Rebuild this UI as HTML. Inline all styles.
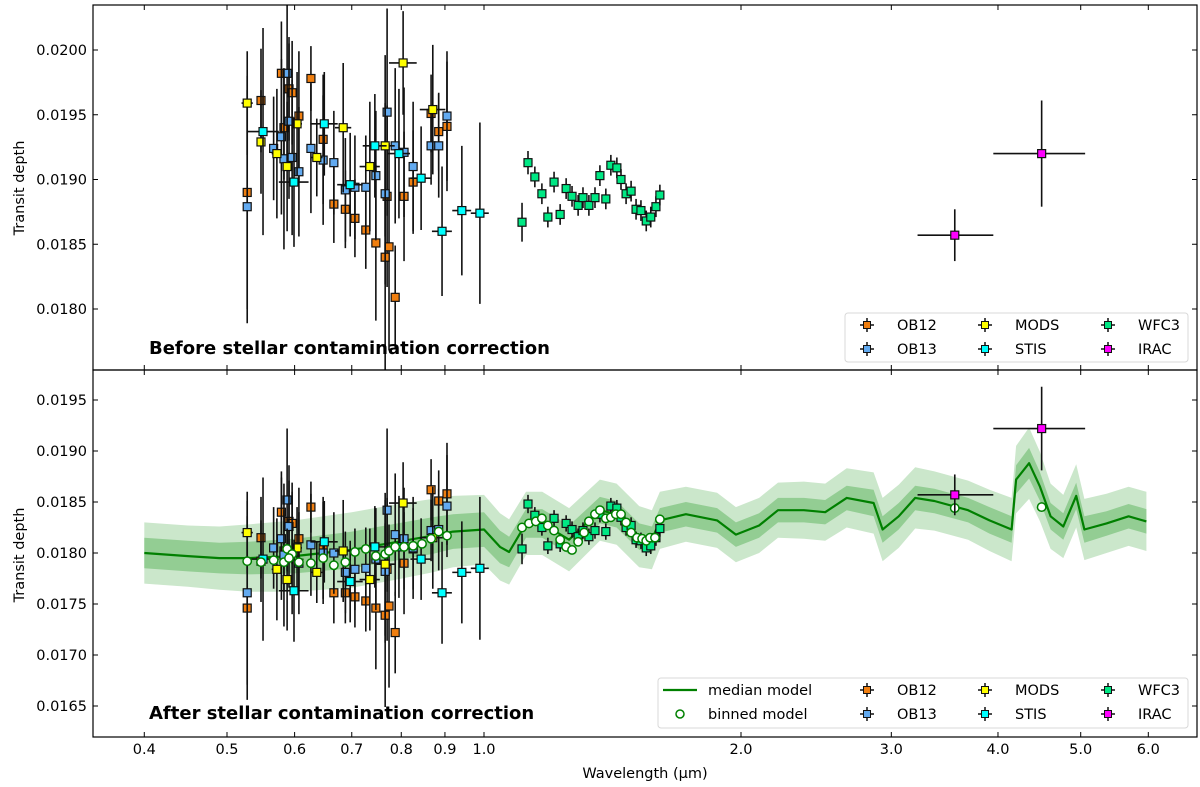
<!DOCTYPE html>
<html><head><meta charset="utf-8"><style>
html,body{margin:0;padding:0;background:#fff;}
svg{display:block;font-family:"DejaVu Sans","Liberation Sans",sans-serif;}
</style></head><body>
<svg id="chart" width="1200" height="787" viewBox="0 0 1200 787" xmlns="http://www.w3.org/2000/svg">
<defs>
<clipPath id="clipTop"><rect x="93" y="5" width="1104" height="365"/></clipPath>
<clipPath id="clipBot"><rect x="93" y="370" width="1104" height="367"/></clipPath>
</defs>
<g id="topPanel"></g>
<g id="botPanel"></g>
<g id="axes"></g>
</svg>
<script>
// ---------- data ----------
const ob12Wl=[.528,.548,.579,.591,.596,.583,.607,.627,.648,.667,.688,.706,.727,.747,.770,.774,.766,.787,.806,.826,.867,.885,.905];
const ob12Top=[.01890,.01961,.01982,.01970,.01967,.01940,.01949,.01978,.01931,.01881,.01877,.01870,.01861,.01851,.01887,.01848,.01840,.01809,.01887,.01898,.01951,.01937,.01941];
const ob12Bot=[.01746,.01815,.01840,.01831,.01829,.01802,.01814,.01845,.01805,.01761,.01761,.01757,.01753,.01746,.01784,.01748,.01739,.01722,.01790,.01804,.01862,.01851,.01858];
const ob12Err=[.0009,.0004,.0004,.0004,.0004,.0004,.0005,.00025,.0005,.0003,.0003,.0003,.0003,.0006,.0007,.0008,.0009,.0004,.0005,.0004,.0003,.0003,.0005];
const ob12Xerr=[.004,.004,.004,.004,.004,.004,.004,.004,.004,.004,.004,.004,.004,.004,.004,.004,.004,.004,.004,.004,.004,.004,.004];

const ob13Wl=[.528,.567,.588,.591,.579,.583,.596,.607,.627,.648,.667,.688,.706,.727,.747,.770,.766,.787,.806,.826,.867,.885,.905];
const ob13Top=[.01879,.01924,.01982,.01945,.01933,.01916,.01917,.01906,.01924,.01915,.01913,.01892,.01894,.01894,.01903,.01952,.01889,.01926,.01921,.01910,.01926,.01926,.01949];
const ob13Bot=[.01761,.01805,.01852,.01826,.01814,.01798,.01800,.01790,.01808,.01800,.01800,.01781,.01784,.01785,.01794,.01842,.01782,.01818,.01814,.01805,.01822,.01823,.01846];
const ob13Err=[.0009,.0004,.0007,.0006,.0006,.0007,.0006,.0005,.0005,.0005,.0004,.0004,.0004,.0004,.0005,.0008,.0007,.0006,.0005,.0005,.0003,.0004,.0005];
const ob13Xerr=[.004,.004,.004,.004,.004,.004,.004,.004,.004,.004,.004,.004,.004,.004,.004,.004,.004,.004,.004,.004,.004,.004,.004];

const modsWl=[.528,.548,.572,.604,.588,.637,.684,.735,.766,.804,.871];
const modsTop=[.01959,.01929,.01920,.01943,.01910,.01917,.01940,.01910,.01926,.01990,.01954];
const modsBot=[.01820,.01792,.01784,.01805,.01774,.01781,.01802,.01774,.01789,.01849,.01815];
const modsErr=[.0004,.0004,.0005,.0004,.0005,.0003,.0005,.0005,.0007,.0004,.0005];
const modsXerr=[.008,.006,.008,.008,.006,.01,.015,.02,.02,.03,.03];

const stisWl=[.551,.599,.650,.697,.745,.795,.844,.893,.942,.989];
const stisTop=[.01937,.01898,.01943,.01896,.01926,.01920,.01901,.01860,.01876,.01874];
const stisBot=[.01794,.01763,.01811,.01772,.01806,.01806,.01794,.01761,.01781,.01785];
const stisErr=[.0008,.0005,.0004,.0004,.0004,.0005,.0004,.0005,.0005,.0007];
const stisXerr=[.024,.024,.024,.024,.024,.024,.024,.024,.024,.024];

const wfc3Wl=[1.108,1.126,1.147,1.169,1.188,1.208,1.228,1.248,1.268,1.289,1.306,1.327,1.349,1.367,1.389,1.408,1.431,1.447,1.467,1.487,1.507,1.527,1.549,1.568,1.590,1.607];
const wfc3Top=[.01867,.01913,.01902,.01889,.01871,.01898,.01873,.01893,.01887,.01880,.01886,.01880,.01886,.01903,.01885,.01911,.01909,.01900,.01889,.01891,.01877,.01876,.01868,.01871,.01879,.01888];
const wfc3Bot=[.01804,.01848,.01837,.01825,.01807,.01834,.01809,.01829,.01823,.01816,.01822,.01816,.01822,.01838,.01821,.01846,.01844,.01835,.01825,.01827,.01813,.01812,.01805,.01807,.01815,.01824];
const wfc3Err=[.00015,.00009,.00008,.00008,.00008,.00008,.00008,.00008,.00008,.00008,.00008,.00008,.00008,.00008,.00008,.00008,.00008,.00008,.00008,.00008,.00008,.00008,.00008,.00008,.00008,.00008];
const wfc3Xerr=[0,0,0,0,0,0,0,0,0,0,0,0,0,0,0,0,0,0,0,0,0,0,0,0,0,0];

const iracWl=[3.56,4.50];
const iracTop=[.01857,.01920];
const iracBot=[.01857,.01922];
const iracErr=[.0002,.00041];
const iracXlo=[3.22,3.95];
const iracXhi=[3.95,5.06];

const modelWl=[0.40,0.45,0.49,0.53,0.60,0.70,0.78,0.87,0.92,1.00,1.044,1.07,1.12,1.17,1.258,1.367,1.43,1.52,1.573,1.607,1.724,1.875,1.973,2.1,2.21,2.37,2.51,2.66,2.86,2.93,3.06,3.2,3.37,3.69,3.91,4.15,4.2,4.35,4.48,4.61,4.77,4.94,5.05,5.36,5.69,5.97];
const modelMed=[.01800,.01797,.01795,.01795,.01797,.01803,.01810,.01817,.01821,.01823,.01806,.01801,.01829,.01829,.01813,.01842,.01838,.01816,.01813,.01832,.01838,.01832,.01818,.01827,.01842,.01842,.01840,.01854,.01849,.01823,.01836,.01854,.01851,.01842,.01832,.01823,.01872,.01888,.01865,.01836,.01826,.01856,.01823,.01829,.01836,.01831];
const modelS1=[.00015,.00015,.00015,.00016,.00017,.00018,.00018,.00018,.00017,.00017,.00016,.00015,.00014,.00014,.00014,.00013,.00013,.00013,.00013,.00012,.00012,.00012,.00012,.00012,.00012,.00012,.00012,.00012,.00013,.00013,.00013,.00012,.00012,.00012,.00013,.00013,.00014,.00015,.00014,.00013,.00013,.00013,.00013,.00012,.00012,.00012];
const modelS2=[.00030,.00030,.00031,.00033,.00035,.00037,.00037,.00036,.00035,.00034,.00033,.00032,.00031,.00031,.00031,.00030,.00030,.00030,.00029,.00028,.00027,.00027,.00027,.00027,.00027,.00028,.00028,.00029,.00030,.00031,.00031,.00030,.00029,.00029,.00030,.00031,.00033,.00035,.00034,.00032,.00031,.00031,.00030,.00029,.00029,.00029];

const binWl=[.528,.548,.567,.583,.588,.596,.591,.607,.627,.648,.667,.688,.706,.727,.747,.766,.774,.787,.806,.826,.846,.867,.885,.905,1.108,1.129,1.15,1.169,1.188,1.208,1.228,1.248,1.268,1.289,1.31,1.327,1.349,1.367,1.389,1.408,1.427,1.447,1.467,1.487,1.511,1.532,1.549,1.565,1.586,1.607,3.56,4.50];
const binVal=[.01792,.01791,.01793,.01791,.01804,.01799,.01795,.01791,.01790,.01795,.01788,.01791,.01801,.01804,.01797,.01799,.01802,.01806,.01806,.01807,.01809,.01814,.01821,.01817,.01825,.01829,.01831,.01834,.01827,.01822,.01813,.01806,.01803,.01811,.01820,.01831,.01838,.01842,.01834,.01835,.01838,.01838,.01830,.01820,.01815,.01814,.01812,.01815,.01815,.01833,.01844,.01845];

const topTicks=[0.0180,0.0185,0.0190,0.0195,0.0200];
const botTicks=[0.0165,0.0170,0.0175,0.0180,0.0185,0.0190,0.0195];
const xTicks=[0.4,0.5,0.6,0.7,0.8,0.9,1.0,2.0,3.0,4.0,5.0,6.0];
const xTickLabels=["0.4","0.5","0.6","0.7","0.8","0.9","1.0","2.0","3.0","4.0","5.0","6.0"];

// ---------- scales ----------
const L=93,R=1197;
function X(w){return 484+853.7*Math.log10(w);}
function YT(v){return 50+(0.0200-v)*129500;}
function YB(v){return 400+(0.0195-v)*102000;}
const NS="http://www.w3.org/2000/svg";
function mk(tag,attrs,parent){const e=document.createElementNS(NS,tag);for(const k in attrs)e.setAttribute(k,attrs[k]);parent.appendChild(e);return e;}

const topG=document.getElementById('topPanel');
const botG=document.getElementById('botPanel');
const axes=document.getElementById('axes');
const gTop=mk('g',{'clip-path':'url(#clipTop)'},topG);
const gBot=mk('g',{'clip-path':'url(#clipBot)'},botG);

// ---------- model bands ----------
function band(s,fill,name){
  let pts=[];
  for(let i=0;i<modelWl.length;i++)pts.push(X(modelWl[i]).toFixed(1)+','+YB(modelMed[i]+s[i]).toFixed(1));
  for(let i=modelWl.length-1;i>=0;i--)pts.push(X(modelWl[i]).toFixed(1)+','+YB(modelMed[i]-s[i]).toFixed(1));
  const p=mk('polygon',{points:pts.join(' '),fill:fill,stroke:'none'},gBot);
  
  
}
band(modelS2,'#cbe7cb','model-2sigma-band');
band(modelS1,'#93cd93','model-1sigma-band');
{
  let d='';
  for(let i=0;i<modelWl.length;i++)d+=(i?'L':'M')+X(modelWl[i]).toFixed(1)+' '+YB(modelMed[i]).toFixed(1);
  const p=mk('path',{d:d,fill:'none',stroke:'#008000','stroke-width':2.2,'stroke-linejoin':'round'},gBot);
  
  
}

// ---------- data points ----------
function drawSeries(g,Y,wl,val,err,xlo,xhi,color,name){
  for(let i=0;i<wl.length;i++){
    const cx=X(wl[i]),cy=Y(val[i]);
    const grp=mk('g',{},g);
    
    
    mk('line',{x1:cx,x2:cx,y1:Y(val[i]+err[i]),y2:Y(val[i]-err[i]),stroke:'#111','stroke-width':1.6},grp);
    mk('line',{x1:X(xlo[i]),x2:X(xhi[i]),y1:cy,y2:cy,stroke:'#111','stroke-width':1.6},grp);
    mk('rect',{x:cx-4,y:cy-4,width:8,height:8,fill:color,stroke:'#111','stroke-width':1.2},grp);
  }
}
function lohi(wl,xe){return [wl.map((w,i)=>w-xe[i]),wl.map((w,i)=>w+xe[i])];}
const series=[
 [ob12Wl,ob12Top,ob12Bot,ob12Err,ob12Xerr,'#f07f10','ob12'],
 [ob13Wl,ob13Top,ob13Bot,ob13Err,ob13Xerr,'#62aaf0','ob13'],
 [modsWl,modsTop,modsBot,modsErr,modsXerr,'#ffff00','mods'],
 [stisWl,stisTop,stisBot,stisErr,stisXerr,'#00ffff','stis'],
 [wfc3Wl,wfc3Top,wfc3Bot,wfc3Err,wfc3Xerr,'#00e884','wfc3']
];
series.forEach(s=>{const lh=lohi(s[0],s[4]);
  drawSeries(gTop,YT,s[0],s[1],s[3],lh[0],lh[1],s[5],s[6]);
  drawSeries(gBot,YB,s[0],s[2],s[3],lh[0],lh[1],s[5],s[6]);
});
drawSeries(gTop,YT,iracWl,iracTop,iracErr,iracXlo,iracXhi,'#ff00ff','irac');

// binned model circles
for(let i=0;i<binWl.length;i++){
  const c=mk('circle',{cx:X(binWl[i]),cy:YB(binVal[i]),r:4.2,fill:'#fff',stroke:'#008000','stroke-width':1.5},gBot);
  
  
}
drawSeries(gBot,YB,iracWl,iracBot,iracErr,iracXlo,iracXhi,'#ff00ff','irac');

// ---------- axes ----------
function frame(y0,y1,name){
  const r=mk('rect',{x:L,y:y0,width:R-L,height:y1-y0,fill:'none',stroke:'#000','stroke-width':1.2},axes);
  
  
}
frame(5,370,'top-panel-frame');
frame(370,737,'bottom-panel-frame');
function yTicks(ticks,Y,name){
  ticks.forEach(v=>{
    const y=Y(v);
    mk('line',{x1:L,x2:L+5,y1:y,y2:y,stroke:'#000','stroke-width':1},axes);
    mk('line',{x1:R,x2:R-5,y1:y,y2:y,stroke:'#000','stroke-width':1},axes);
    const t=mk('text',{x:87,y:y+5,'text-anchor':'end','font-size':14.5,fill:'#000'},axes);
    t.textContent=v.toFixed(4);
    
    
  });
}
yTicks(topTicks,YT,'top-y');
yTicks(botTicks,YB,'bottom-y');
xTicks.forEach((w,i)=>{
  const x=X(w);
  [[5,10],[370,375],[370,365],[737,732]].forEach(p=>mk('line',{x1:x,x2:x,y1:p[0],y2:p[1],stroke:'#000','stroke-width':1},axes));
  const t=mk('text',{x:x,y:754,'text-anchor':'middle','font-size':14.5,fill:'#000'},axes);
  t.textContent=xTickLabels[i];
  
  
});
function txt(s,attrs,name){const t=mk('text',attrs,axes);t.textContent=s;return t;}
txt('Wavelength (μm)',{x:645,y:778,'text-anchor':'middle','font-size':14.5},'x-axis-title');
txt('Transit depth',{x:0,y:0,transform:'translate(24,188) rotate(-90)','text-anchor':'middle','font-size':14.5},'top-y-axis-title');
txt('Transit depth',{x:0,y:0,transform:'translate(24,555) rotate(-90)','text-anchor':'middle','font-size':14.5},'bottom-y-axis-title');
txt('Before stellar contamination correction',{x:149,y:354,'font-size':18,'font-weight':'bold'},'top-panel-label');
txt('After stellar contamination correction',{x:149,y:719,'font-size':18,'font-weight':'bold'},'bottom-panel-label');

// ---------- legends ----------
function legendBox(x0,y0,x1,y1,name){
  const r=mk('rect',{x:x0,y:y0,width:x1-x0,height:y1-y0,rx:3,fill:'#fff','fill-opacity':0.85,stroke:'#d8d8d8','stroke-width':1},axes);
  
  
}
function legMarker(x,y,color,label,name){
  const g=mk('g',{},axes);
  
  
  mk('line',{x1:x-7,x2:x+7,y1:y,y2:y,stroke:'#111','stroke-width':1.5},g);
  mk('line',{x1:x,x2:x,y1:y-7,y2:y+7,stroke:'#111','stroke-width':1.5},g);
  mk('rect',{x:x-3.5,y:y-3.5,width:7,height:7,fill:color,stroke:'#111','stroke-width':1},g);
  const t=mk('text',{x:x+30,y:y+5,'font-size':14.5},g);t.textContent=label;
}
const legItems=[['#f07f10','OB12'],['#62aaf0','OB13'],['#ffff00','MODS'],['#00ffff','STIS'],['#00e884','WFC3'],['#ff00ff','IRAC']];
const legCols=[867,985,1108];
function instLegend(r0,r1,prefix){
  legItems.forEach((it,i)=>{const col=Math.floor(i/2),row=i%2;
    legMarker(legCols[col],row?r1:r0,it[0],it[1],prefix+'-legend-'+it[1].toLowerCase());});
}
legendBox(845,313,1188,362,'top-legend');
instLegend(325,349,'top');
legendBox(658,678,1188,728,'bottom-legend');
instLegend(690,714,'bottom');
{
  const g=mk('g',{},axes);
  
  
  mk('line',{x1:663,x2:697,y1:690,y2:690,stroke:'#008000','stroke-width':2.2},g);
  const t=mk('text',{x:708,y:695,'font-size':14.5},g);t.textContent='median model';
  const g2=mk('g',{},axes);
  
  
  mk('circle',{cx:680,cy:714,r:4,fill:'#fff',stroke:'#008000','stroke-width':1.5},g2);
  const t2=mk('text',{x:708,y:719,'font-size':14.5},g2);t2.textContent='binned model';
}
</script>
</body></html>
